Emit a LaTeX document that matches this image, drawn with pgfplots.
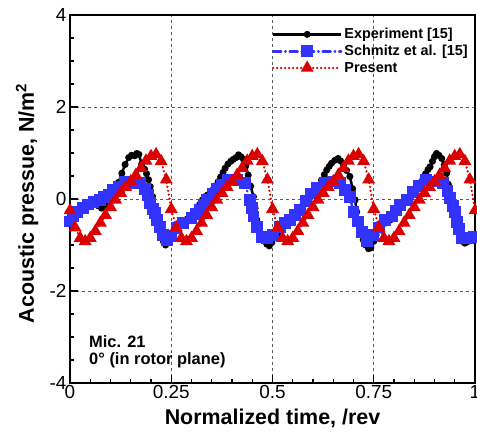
\documentclass[border=0pt]{standalone}
\usepackage{pgfplots}
\pgfplotsset{compat=1.18}
\usepackage{fontspec}
\setmainfont{Liberation Sans}

\definecolor{schblue}{RGB}{51,51,255}
\definecolor{presred}{RGB}{220,0,0}

\begin{document}
\begin{tikzpicture}
\begin{axis}[
    scale only axis,
    width=405bp, height=368bp,
    xmin=0, xmax=1, ymin=-4, ymax=4,
    xtick={0,0.25,0.5,0.75,1}, xticklabels={0,0.25,0.5,0.75,1},
    ytick={-4,-2,0,2,4}, yticklabels={-4,-2,0,2,4},
    minor x tick num=4, minor y tick num=3,
    tick pos=left, tick align=inside,
    major tick length=8bp, minor tick length=4bp,
    every tick/.style={black, line width=1.2bp},
    axis line style={line width=2.5bp},
    grid=major,
    major grid style={gray!70!black, line width=0.6bp, dash pattern=on 3bp off 3bp},
    ticklabel style={font=\fontsize{19}{19}\selectfont},
    xticklabel style={yshift=1bp},
    xlabel={Normalized time, /rev},
    ylabel={Acoustic pressue, N/m\textsuperscript{2}},
    label style={font=\bfseries\fontsize{21.5}{21.5}\selectfont},
    xlabel style={at={(rel axis cs:0.5,0)}, yshift=-35bp, anchor=center},
    ylabel style={at={(rel axis cs:-0.106,0.488)}, anchor=center},
    legend style={at={(0.995,0.975)}, anchor=north east, draw=none, fill=none,
        font=\bfseries\fontsize{14.5}{15}\selectfont, row sep=1bp,
        cells={anchor=west}},
    legend image code/.code={\draw[mark repeat=2,mark phase=2,#1]
        plot coordinates {(0bp,0bp) (34bp,0bp) (68bp,0bp)};},
]
\addplot[black, line width=2.5bp, mark=*, mark size=2.2bp] coordinates {
(0.000,-0.42) (0.010,-0.33) (0.020,-0.25) (0.035,-0.18) (0.049,-0.12)
(0.060,-0.09) (0.070,-0.15) (0.078,-0.20) (0.085,-0.15) (0.092,-0.06)
(0.100,0.03) (0.107,0.13) (0.114,0.25) (0.120,0.36) (0.128,0.56)
(0.136,0.75) (0.145,0.90) (0.152,0.95) (0.160,0.94) (0.165,0.99)
(0.170,0.97) (0.177,0.76) (0.184,0.65) (0.189,0.55) (0.194,0.42)
(0.198,0.27) (0.204,0.05) (0.210,-0.17) (0.214,-0.35) (0.218,-0.53)
(0.222,-0.68) (0.226,-0.82) (0.231,-0.93) (0.236,-1.00) (0.242,-0.95)
(0.248,-0.82) (0.255,-0.71) (0.263,-0.63) (0.272,-0.57) (0.280,-0.50)
(0.290,-0.43) (0.298,-0.38) (0.305,-0.33) (0.312,-0.24) (0.320,-0.12)
(0.327,-0.02) (0.333,0.05) (0.340,0.09) (0.346,0.12) (0.353,0.20)
(0.360,0.29) (0.366,0.38) (0.372,0.48) (0.378,0.58) (0.383,0.67)
(0.390,0.76) (0.397,0.82) (0.403,0.86) (0.410,0.90) (0.416,0.96)
(0.422,0.92) (0.428,0.87) (0.434,0.72) (0.440,0.52) (0.446,0.28)
(0.453,0.05) (0.457,-0.20) (0.461,-0.45) (0.466,-0.65) (0.473,-0.82)
(0.480,-0.92) (0.486,-0.98) (0.492,-1.02) (0.498,-0.95) (0.505,-0.85)
(0.512,-0.76) (0.519,-0.67) (0.527,-0.58) (0.535,-0.50) (0.543,-0.42)
(0.550,-0.37) (0.558,-0.30) (0.568,-0.20) (0.576,-0.10) (0.584,-0.02)
(0.592,0.06) (0.600,0.12) (0.607,0.20) (0.614,0.30) (0.621,0.41)
(0.628,0.53) (0.634,0.63) (0.640,0.71) (0.646,0.78) (0.654,0.84)
(0.662,0.88) (0.668,0.83) (0.675,0.74) (0.683,0.62) (0.691,0.49)
(0.698,0.22) (0.704,-0.02) (0.708,-0.28) (0.712,-0.53) (0.718,-0.72)
(0.724,-0.89) (0.730,-1.00) (0.737,-1.08) (0.743,-1.06) (0.750,-0.92)
(0.756,-0.78) (0.761,-0.67) (0.770,-0.58) (0.780,-0.52) (0.790,-0.46)
(0.800,-0.37) (0.808,-0.28) (0.815,-0.20) (0.823,-0.12) (0.832,-0.04)
(0.840,0.02) (0.848,0.10) (0.855,0.19) (0.860,0.27) (0.866,0.36)
(0.872,0.45) (0.878,0.55) (0.884,0.64) (0.889,0.70) (0.895,0.82)
(0.900,0.92) (0.905,0.99) (0.911,0.95) (0.918,0.88) (0.924,0.74)
(0.930,0.56) (0.934,0.32) (0.938,0.05) (0.942,-0.15) (0.947,-0.32)
(0.951,-0.46) (0.957,-0.65) (0.963,-0.82) (0.969,-0.92) (0.975,-0.96)
(0.981,-0.93) (0.988,-0.89) (0.994,-0.87) (1.000,-0.85)
};
\addlegendentry{Experiment [15]}
\addplot[schblue, line width=2.5bp, line cap=round,
    dash pattern=on 8bp off 4bp on 0.5bp off 4bp,
    mark=square*, mark size=4.7bp, mark options={solid}] coordinates {
(0.000,-0.49) (0.008,-0.38) (0.018,-0.28) (0.033,-0.20) (0.045,-0.12)
(0.058,-0.06) (0.074,-0.02) (0.085,0.04) (0.095,0.09) (0.107,0.20)
(0.120,0.27) (0.136,0.38) (0.156,0.35) (0.173,0.34) (0.186,0.22)
(0.193,0.09) (0.198,-0.09) (0.205,-0.22) (0.210,-0.30) (0.214,-0.46)
(0.222,-0.60) (0.230,-0.78) (0.239,-0.89) (0.250,-0.80) (0.263,-0.64)
(0.280,-0.53) (0.300,-0.42) (0.312,-0.33) (0.321,-0.24) (0.330,-0.12)
(0.338,-0.02) (0.354,0.12) (0.364,0.22) (0.374,0.30) (0.391,0.41)
(0.412,0.41) (0.432,0.34) (0.444,-0.02) (0.449,-0.20) (0.453,-0.38)
(0.461,-0.60) (0.473,-0.82) (0.486,-0.85) (0.502,-0.78) (0.519,-0.60)
(0.530,-0.52) (0.543,-0.46) (0.555,-0.35) (0.568,-0.24) (0.582,-0.05)
(0.596,0.12) (0.609,0.23) (0.630,0.34) (0.650,0.38) (0.667,0.34)
(0.680,0.20) (0.691,0.05) (0.700,-0.28) (0.712,-0.49) (0.720,-0.71)
(0.733,-0.92) (0.749,-0.78) (0.762,-0.62) (0.778,-0.46) (0.794,-0.38)
(0.805,-0.25) (0.815,-0.13) (0.831,-0.02) (0.848,0.16) (0.862,0.28)
(0.880,0.41) (0.905,0.38) (0.921,0.34) (0.932,0.18) (0.938,0.02)
(0.946,-0.15) (0.951,-0.28) (0.955,-0.50) (0.960,-0.65) (0.967,-0.85)
(0.984,-0.85) (0.997,-0.82)
};
\addlegendentry{Schmitz et al. [15]}
\addplot[presred, line width=2.5bp, line cap=round,
    dash pattern=on 0bp off 4bp,
    mark=triangle*, mark size=5bp, mark options={solid}] coordinates {
(0.0000,-0.25) (0.0125,-0.62) (0.0250,-0.85) (0.0375,-0.92) (0.0500,-0.85)
(0.0625,-0.70) (0.0750,-0.52) (0.0875,-0.35) (0.1000,-0.18) (0.1125,-0.02)
(0.1250,0.13) (0.1375,0.26) (0.1500,0.38) (0.1625,0.52) (0.1750,0.67)
(0.1875,0.83) (0.2000,0.93) (0.2125,0.97) (0.2250,0.82) (0.2375,0.42)
(0.2500,-0.22) (0.2625,-0.62) (0.2750,-0.85) (0.2875,-0.92) (0.3000,-0.85)
(0.3125,-0.70) (0.3250,-0.52) (0.3375,-0.35) (0.3500,-0.18) (0.3625,-0.02)
(0.3750,0.13) (0.3875,0.26) (0.4000,0.38) (0.4125,0.52) (0.4250,0.67)
(0.4375,0.83) (0.4500,0.93) (0.4625,0.97) (0.4750,0.82) (0.4875,0.42)
(0.5000,-0.22) (0.5125,-0.62) (0.5250,-0.85) (0.5375,-0.92) (0.5500,-0.85)
(0.5625,-0.70) (0.5750,-0.52) (0.5875,-0.35) (0.6000,-0.18) (0.6125,-0.02)
(0.6250,0.13) (0.6375,0.26) (0.6500,0.38) (0.6625,0.52) (0.6750,0.67)
(0.6875,0.83) (0.7000,0.93) (0.7125,0.97) (0.7250,0.82) (0.7375,0.42)
(0.7500,-0.22) (0.7625,-0.62) (0.7750,-0.85) (0.7875,-0.92) (0.8000,-0.85)
(0.8125,-0.70) (0.8250,-0.52) (0.8375,-0.35) (0.8500,-0.18) (0.8625,-0.02)
(0.8750,0.13) (0.8875,0.26) (0.9000,0.38) (0.9125,0.52) (0.9250,0.67)
(0.9375,0.83) (0.9500,0.93) (0.9625,0.97) (0.9750,0.82) (0.9875,0.42)
(1.0000,-0.25)
};
\addlegendentry{Present}
\node[anchor=north west, align=left, inner sep=0pt,
    font=\bfseries\fontsize{16.5}{17.5}\selectfont]
    at (rel axis cs:0.047,0.13) {Mic. 21\\0° (in rotor plane)};
\end{axis}
\pgfresetboundingbox
\path[use as bounding box] ([xshift=-70bp,yshift=-50bp]current axis.south west)
    rectangle ([xshift=2bp,yshift=15bp]current axis.north east);
\end{tikzpicture}
\end{document}
